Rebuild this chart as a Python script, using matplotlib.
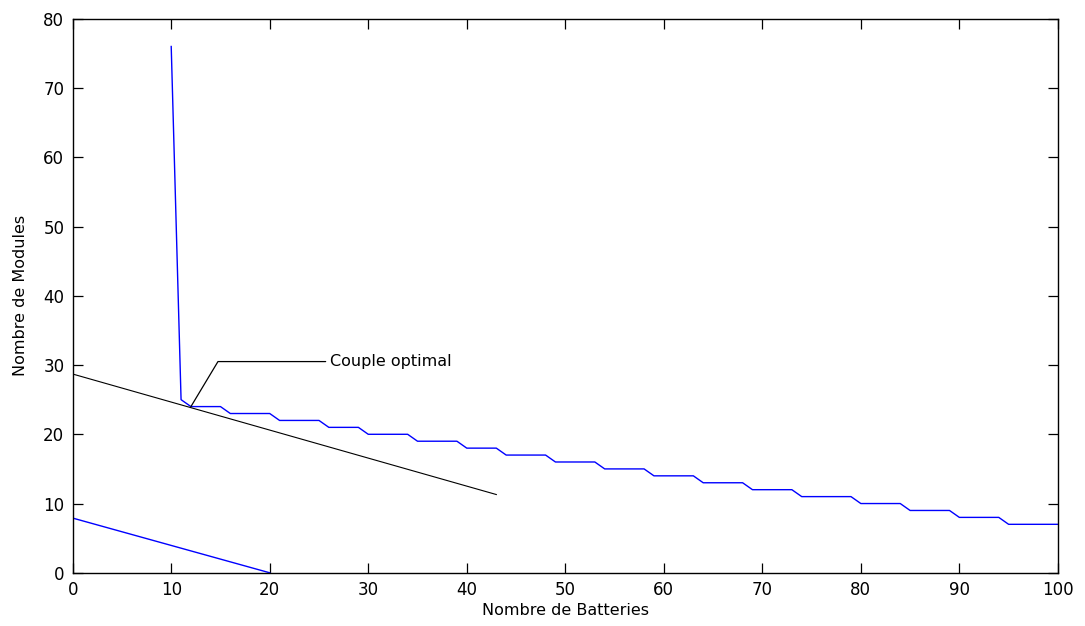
import matplotlib
matplotlib.use("Agg")
import matplotlib.pyplot as plt
import numpy as np

# courbe nombre de modules en fonction du nombre de batteries (x = 10..100)
batteries = list(range(10, 101))
modules = ([76, 25] + [24] * 4 + [23] * 5 + [22] * 5 + [21] * 4 + [20] * 5
           + [19] * 5 + [18] * 4 + [17] * 5 + [16] * 5 + [15] * 5 + [14] * 5
           + [13] * 5 + [12] * 5 + [11] * 6 + [10] * 5 + [9] * 5 + [8] * 5 + [7] * 6)

# droite de cout (noire)
cost_x = [0, 43]
cost_y = [28.7, 11.3]

# droite basse (bleue)
low_x = [0, 20]
low_y = [7.9, 0]

optimum = (12, 24)

plt.rcParams['font.family'] = ['DejaVu Sans']

fig = plt.figure(figsize=(10.85, 6.26), dpi=100)
ax = fig.add_axes([0.067, 0.085, 0.908, 0.885])

ax.plot(batteries, modules, color='#0000ff', lw=1.0)
ax.plot(cost_x, cost_y, color='black', lw=0.8)
ax.plot(low_x, low_y, color='#0000ff', lw=1.0)

ax.annotate('Couple optimal', xy=optimum, xytext=(26.1, 30.5),
            fontsize=11.5, ha='left', va='center',
            arrowprops=dict(arrowstyle='-', color='black', lw=0.9,
                            shrinkA=1, shrinkB=0,
                            connectionstyle='angle,angleA=0,angleB=59,rad=0'))

ax.set_xlim(0, 100)
ax.set_ylim(0, 80)
ax.set_xticks(np.arange(0, 101, 10))
ax.set_yticks(np.arange(0, 81, 10))
ax.tick_params(direction='in', length=7, width=0.9, top=True, right=True,
               labelsize=12, pad=6)
for s in ax.spines.values():
    s.set_linewidth(1.0)

ax.set_xlabel('Nombre de Batteries', fontsize=11.5, labelpad=3)
ax.set_ylabel('Nombre de Modules', fontsize=11.5, labelpad=11)

fig.savefig('out.png', dpi=100)
